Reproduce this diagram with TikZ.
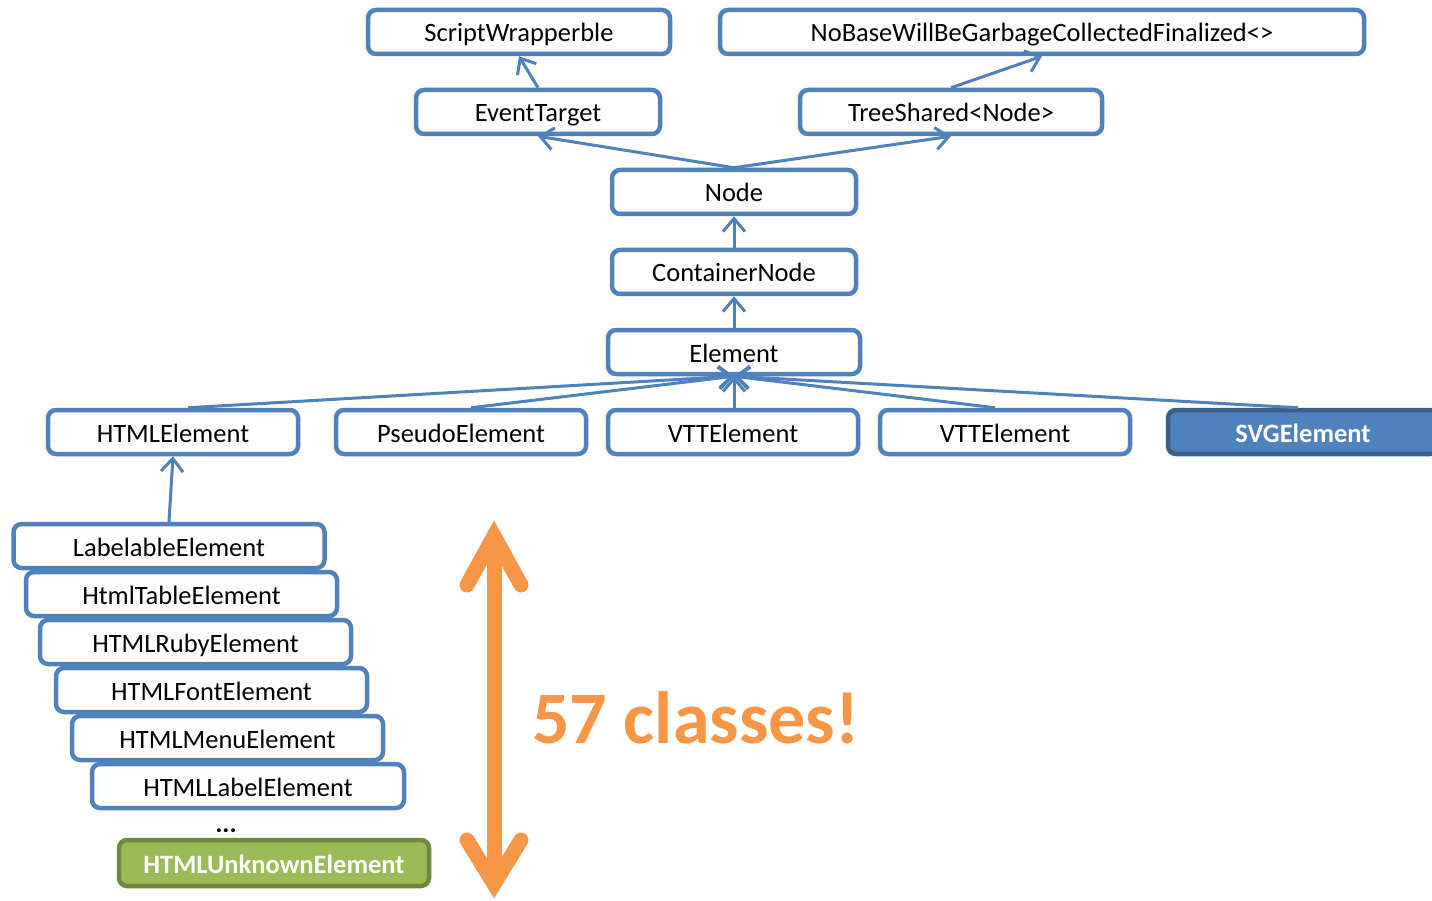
\documentclass[tikz,border=0pt]{standalone}
\usepackage{fontspec}
\setmainfont{Carlito}
\usetikzlibrary{arrows.meta}
\definecolor{umlblue}{HTML}{4F81BD}
\definecolor{umlbluedark}{HTML}{3A5F8B}
\definecolor{accentorange}{HTML}{F79646}
\definecolor{leafgreen}{HTML}{9BBB59}
\definecolor{leafgreendark}{HTML}{71893F}
\begin{document}
\begin{tikzpicture}[x=1pt,y=-1pt,
  cls/.style={draw=umlblue, line width=4.5pt, rounded corners=8pt, fill=white,
    minimum height=44pt, inner sep=0pt, text height=20pt, text depth=0pt,
    text=black, font=\fontsize{26.5}{30}\selectfont},
  hilite/.style={cls, draw=umlbluedark, fill=umlblue, text=white,
    font=\fontsize{26.5}{30}\selectfont\bfseries},
  leaf/.style={cls, draw=leafgreendark, fill=leafgreen, text=white,
    minimum height=46pt, font=\fontsize{26.5}{30}\selectfont\bfseries},
  inherit/.style={draw=umlblue, line width=3pt,
    -{Straight Barb[length=13pt,width=22pt]}},
  bigarrow/.style={draw=accentorange, line width=15pt, line cap=round, line join=miter}
]
\fill[white] (0,0) rectangle (1432,901);
\useasboundingbox (0,0) rectangle (1432,901);

% top of the hierarchy
\node[cls, minimum width=302pt] (sw) at (519,32) {ScriptWrapperble};
\node[cls, minimum width=644pt] (nb) at (1042,32) {NoBaseWillBeGarbageCollectedFinalized<>};
\node[cls, minimum width=244pt] (et) at (538,112) {EventTarget};
\node[cls, minimum width=302pt] (ts) at (951,112) {TreeShared<Node>};
\node[cls, minimum width=244pt] (nd) at (734,192) {Node};
\node[cls, minimum width=244pt] (cn) at (734,272) {ContainerNode};
\node[cls, minimum width=252pt] (el) at (734,352) {Element};

% direct subclasses of Element
\node[cls, minimum width=250pt] (html) at (173,432) {HTMLElement};
\node[cls, minimum width=250pt] (pseudo) at (461,432) {PseudoElement};
\node[cls, minimum width=250pt] (vtta) at (733,432) {VTTElement};
\node[cls, minimum width=250pt] (vttb) at (1005,432) {VTTElement};
\node[hilite, minimum width=270pt] (svg) at (1303,432) {SVGElement};

% stack of HTML element classes
\node[cls, minimum width=311pt] (lab) at (169,546) {LabelableElement};
\node[cls, minimum width=311pt] (tab) at (181.5,594) {HtmlTableElement};
\node[cls, minimum width=311pt] (ruby) at (195.5,642) {HTMLRubyElement};
\node[cls, minimum width=311pt] (fnt) at (211.5,690) {HTMLFontElement};
\node[cls, minimum width=311pt] (menu) at (227.5,738) {HTMLMenuElement};
\node[cls, minimum width=312pt] (lbl) at (248,786) {HTMLLabelElement};
\node[anchor=base, inner sep=0pt, font=\fontsize{26.5}{30}\selectfont\bfseries] (dots) at (226,832) {...};
\node[leaf, minimum width=310pt] (unk) at (274,863) {HTMLUnknownElement};

% inheritance connectors
\draw[inherit] (et.north) -- (sw.south);
\draw[inherit] (ts.north) -- (nb.south);
\draw[inherit] (nd.north) -- (et.south);
\draw[inherit] (nd.north) -- (ts.south);
\draw[inherit] (cn.north) -- (nd.south);
\draw[inherit] (el.north) -- (cn.south);
\draw[inherit] ([xshift=15pt]html.north) -- (el.south);
\draw[inherit] ([xshift=10pt]pseudo.north) -- (el.south);
\draw[inherit] ([xshift=1pt]vtta.north) -- (el.south);
\draw[inherit] ([xshift=-10pt]vttb.north) -- (el.south);
\draw[inherit] ([xshift=-5pt]svg.north) -- (el.south);
\draw[inherit] (lab.north) -- (html.south);

% double-headed span arrow and count
\coordinate (upL) at (467,585);
\coordinate (upV) at (494,536);
\coordinate (upR) at (521,585);
\coordinate (dnL) at (467,840);
\coordinate (dnV) at (494,884);
\coordinate (dnR) at (521,840);
\draw[bigarrow, line cap=butt] (upV) -- (dnV);
\draw[bigarrow] (upL) -- (upV) -- (upR);
\draw[bigarrow] (dnL) -- (dnV) -- (dnR);
\node[anchor=base west, inner sep=0pt, text=accentorange,
  font=\fontsize{74}{80}\selectfont\bfseries] (count) at (532,743) {57 classes!};
\end{tikzpicture}
\end{document}
